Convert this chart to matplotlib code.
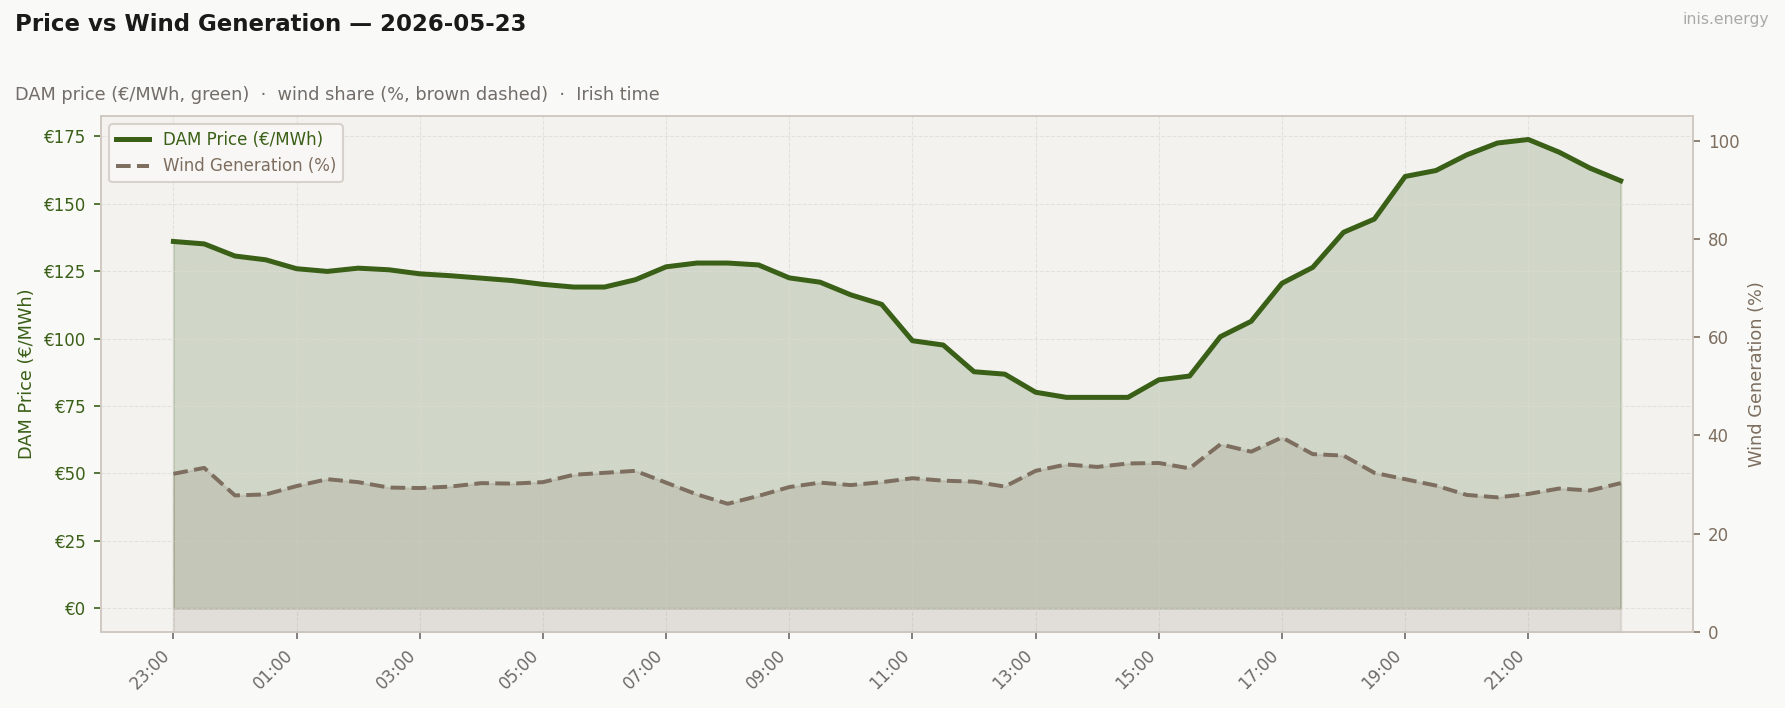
import numpy as np
import pandas as pd
import matplotlib
matplotlib.use('Agg')
import matplotlib.pyplot as plt
import matplotlib.dates as mdates
from matplotlib.ticker import FuncFormatter, MultipleLocator

title = 'Price vs Wind Generation — 2026-05-23'
subtitle = 'DAM price (€/MWh, green)  ·  wind share (%, brown dashed)  ·  Irish time'

# Half-hourly data, Irish time (23:00 previous day -> 22:30)
times = pd.date_range('2026-05-22 23:00', periods=48, freq='30min')
price = [136.0, 135.1, 130.6, 129.2, 125.9, 124.9, 126.1, 125.5, 124.0, 123.3,
         122.4, 121.5, 120.1, 119.1, 119.1, 121.8, 126.6, 128.0, 128.0, 127.3,
         122.5, 120.9, 116.2, 112.7, 99.2, 97.6, 87.7, 86.8, 80.1, 78.2,
         78.2, 78.2, 84.7, 86.1, 100.7, 106.4, 120.5, 126.4, 139.4, 144.3,
         160.1, 162.3, 168.1, 172.5, 173.8, 169.1, 163.2, 158.5]
wind = [32.2, 33.4, 27.8, 28.0, 29.7, 31.1, 30.5, 29.4, 29.3, 29.6,
        30.3, 30.2, 30.5, 32.0, 32.4, 32.8, 30.4, 28.0, 26.1, 27.7,
        29.5, 30.4, 29.9, 30.5, 31.3, 30.8, 30.6, 29.6, 32.8, 34.1,
        33.6, 34.3, 34.4, 33.3, 38.2, 36.7, 39.6, 36.2, 35.9, 32.4,
        31.1, 29.8, 27.9, 27.4, 28.1, 29.2, 28.8, 30.3]

green = '#3a5f17'
brown = '#7d6e5f'
grey = '#6e6a66'
edge = '#cfc9c2'

fig = plt.figure(figsize=(11.9, 4.72), dpi=150, facecolor='#f9f9f7')
ax = fig.add_axes([0.0566, 0.1073, 0.8919, 0.7288])
ax.set_facecolor('#f3f2ef')

ax.fill_between(times, price, 0, color=green, alpha=0.18, linewidth=1)
l1, = ax.plot(times, price, color=green, linewidth=2.4, label='DAM Price (€/MWh)')
ax.set_ylim(-8.8, 182.5)
ax.yaxis.set_major_locator(MultipleLocator(25))
ax.yaxis.set_major_formatter(FuncFormatter(lambda v, p: f'€{v:.0f}'))
ax.set_ylabel('DAM Price (€/MWh)', color=green, fontsize=8.5)
ax.tick_params(axis='y', colors=green, labelsize=8)
ax.tick_params(axis='x', colors=grey, labelsize=8)
ax.grid(True, linestyle='--', linewidth=0.5, color='#dcdad5', alpha=0.7)

ax2 = ax.twinx()
ax2.fill_between(times, wind, 0, color=brown, alpha=0.15, linewidth=1)
l2, = ax2.plot(times, wind, color=brown, linewidth=1.9, linestyle='--', label='Wind Generation (%)')
ax2.set_ylim(0, 105)
ax2.yaxis.set_major_locator(MultipleLocator(20))
ax2.set_ylabel('Wind Generation (%)', color=brown, fontsize=8.5)
ax2.tick_params(axis='y', colors=brown, labelsize=8)

ax.set_xticks(times[::4])
ax.xaxis.set_major_formatter(mdates.DateFormatter('%H:%M'))
plt.setp(ax.get_xticklabels(), rotation=45, ha='right')

for a in (ax, ax2):
    for s in a.spines.values():
        s.set_color(edge)

leg = ax2.legend(handles=[l1, l2], loc='upper left', fontsize=8,
                 facecolor='#f9f8f6', edgecolor='#d5d0ca', framealpha=0.95)
leg.get_texts()[0].set_color(green)
leg.get_texts()[1].set_color(brown)

fig.text(0.0084, 0.965, title, fontsize=11, fontweight='bold', color='#1a1a1a', va='center')
fig.text(0.0084, 0.8665, subtitle, fontsize=8.5, color='#726d68', va='center')
fig.text(0.991, 0.972, 'inis.energy', fontsize=7.5, color='#aaaaaa', ha='right', va='center')

fig.savefig('out.png', dpi=150, facecolor=fig.get_facecolor())
